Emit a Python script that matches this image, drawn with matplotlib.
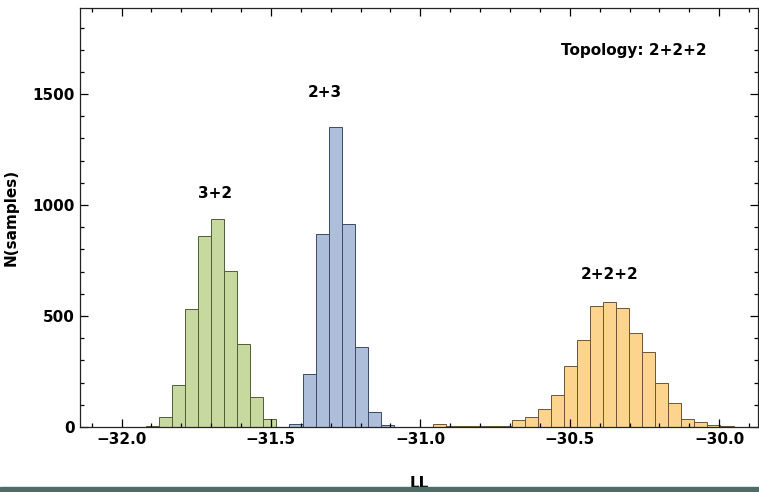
"""
plot.py
Log-likelihood histograms for the three tree topologies.
"""

import numpy as np
import matplotlib
matplotlib.use("Agg")
import matplotlib.pyplot as plt
import matplotlib.ticker as mticker
from matplotlib.patches import Rectangle

# shared bin grid (LL units)
BIN_WIDTH = 0.0437

# first bin left edge for each topology
START_32 = -31.919
START_23 = -31.438
START_222 = -30.957

COUNTS_32 = [3, 46, 190, 530, 860, 938, 705, 375, 135, 37, 2]
COUNTS_23 = [12, 237, 870, 1353, 915, 360, 67, 8]
COUNTS_222 = [15, 3, 3, 4, 4, 5, 30, 45, 83, 146, 276, 393, 545, 561,
              537, 423, 338, 198, 107, 38, 23, 8, 4, 2]

LABELS = ["3+2", "2+3", "2+2+2"]
LABEL_X = [-31.686, -31.320, -30.367]
LABEL_Y = [1053, 1505, 689]

STYLE = {
    "3+2":   ("#c8d9a0", "#4f5f35"),
    "2+3":   ("#adbedb", "#3c4a66"),
    "2+2+2": ("#fdd48e", "#6a5634"),
}

plt.rcParams.update({
    "font.family": "DejaVu Sans",
    "font.size": 11,
    "font.weight": "bold",
})

fig = plt.figure(figsize=(7.59, 4.92), dpi=100)
ax = fig.add_axes([80 / 759, 65 / 492, 678 / 759, 419 / 492])

for name, start, counts in zip(LABELS, [START_32, START_23, START_222],
                               [COUNTS_32, COUNTS_23, COUNTS_222]):
    edges = start + BIN_WIDTH * np.arange(len(counts))
    face, edge = STYLE[name]
    ax.bar(edges, counts, width=BIN_WIDTH, align="edge",
           color=face, edgecolor=edge, linewidth=0.7)

for name, x, y in zip(LABELS, LABEL_X, LABEL_Y):
    ax.text(x, y, name, ha="center", va="center", fontsize=11,
            fontweight="bold")

ax.text(-30.042, 1698, "Topology: 2+2+2", ha="right", va="center",
        fontsize=11, fontweight="bold")

ax.set_xlim(-32.139, -29.870)
ax.set_ylim(0, 1888)
ax.xaxis.set_major_locator(mticker.MultipleLocator(0.5))
ax.xaxis.set_minor_locator(mticker.MultipleLocator(0.1))
ax.yaxis.set_major_locator(mticker.MultipleLocator(500))
ax.yaxis.set_minor_locator(mticker.MultipleLocator(100))
ax.xaxis.set_major_formatter(mticker.FuncFormatter(
    lambda v, _: f"{v:.1f}".replace("-", "\u2212")))
ax.tick_params(which="both", direction="in", top=True, right=True,
               width=0.9, labelsize=11)
ax.tick_params(which="major", length=6)
ax.tick_params(which="minor", length=3)
for s in ax.spines.values():
    s.set_linewidth(0.9)
    s.set_color("#222222")

ax.set_xlabel("LL", fontsize=11, fontweight="bold", labelpad=21)
ax.set_ylabel("N(samples)", fontsize=11, fontweight="bold", labelpad=10)

# screen-edge strip at the bottom of the capture
fig.patches.append(Rectangle((0, 0), 1, 5 / 492, transform=fig.transFigure,
                             color="#4f6d66", zorder=0))

fig.savefig("out.png", dpi=100)
